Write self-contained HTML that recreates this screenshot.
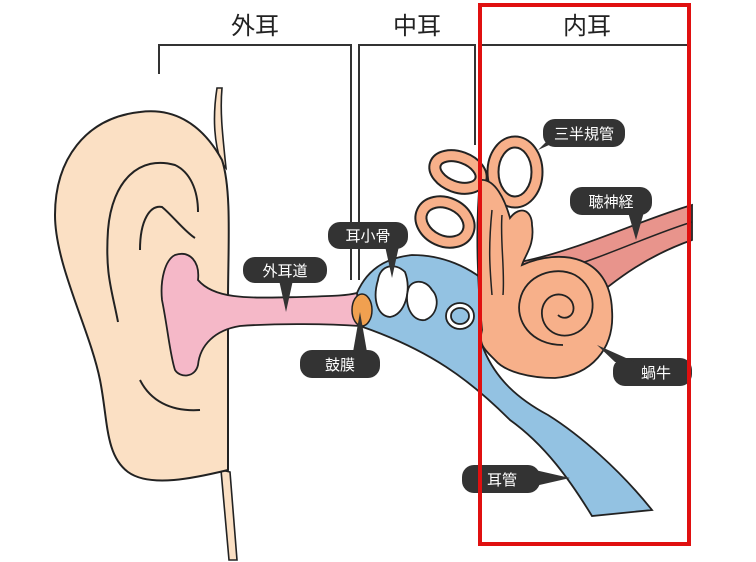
<!DOCTYPE html>
<html><head><meta charset="utf-8"><style>
html,body{margin:0;padding:0;background:#fff;width:756px;height:562px;overflow:hidden}
svg{display:block}
text{font-family:"Liberation Sans","Noto Sans CJK JP",sans-serif}
</style></head><body>
<svg width="756" height="562" viewBox="0 0 756 562" xmlns="http://www.w3.org/2000/svg">
<g fill="none" stroke="#333" stroke-width="2">
<path d="M159 74 V45 H351 V280"/>
<path d="M359 280 V45 H475 V145"/>
<path d="M480 45 H689"/>
</g>
<g font-size="24" fill="#222" text-anchor="middle">
<text x="255" y="34">外耳</text>
<text x="417" y="34">中耳</text>
<text x="587" y="34">内耳</text>
</g>
<!-- neck / hair lines -->
<path d="M217 88 C212 120 215 145 221 162 L226 168 C222 130 220 110 222 88 Z" fill="#fbe0c4" stroke="#222" stroke-width="1.6"/>
<path d="M221 470 L229 560 L237 560 L230 472 Z" fill="#fbe0c4" stroke="#222" stroke-width="1.6"/>
<!-- ear -->
<path d="M222 160 C200 120 170 108 140 112 C85 118 55 160 55 215 C55 265 90 330 100 380 C108 420 105 455 128 472 C150 488 195 478 228 470 L228 300 C228 250 232 190 222 160 Z" fill="#fbe0c4" stroke="#222" stroke-width="2"/>
<g fill="none" stroke="#222" stroke-width="2">
<path d="M118 322 C112 290 105 275 108 230 C112 180 140 155 175 165 C190 172 198 190 198 212"/>
<path d="M140 250 C140 220 150 205 162 207 C172 215 185 232 195 238"/>
<path d="M140 380 C150 400 170 412 200 410"/>
</g>
<!-- nerve -->
<path d="M520 262 C580 250 640 220 692 205 L692 240 C650 255 620 275 580 310 Z" fill="#e8948c" stroke="#222" stroke-width="1.8"/>
<path d="M560 270 C610 255 650 235 692 222" fill="none" stroke="#222" stroke-width="1.5"/>
<!-- blue middle ear + tube -->
<path d="M355 298 C365 270 385 258 412 255 C440 255 470 265 495 290 L482 345 C495 380 520 400 548 415 C580 435 620 470 652 510 L592 516 C570 480 545 445 510 420 C470 380 430 350 360 326 Z" fill="#93c2e2" stroke="#222" stroke-width="1.8"/>
<!-- pink canal -->
<path d="M175 255 C190 250 200 262 198 280 C215 300 250 298 300 297 C330 296 345 296 357 293 L360 326 C330 324 280 323 240 326 C215 330 200 345 198 365 C195 378 180 378 175 370 C170 355 168 330 162 300 C160 280 165 260 175 255 Z" fill="#f5b8c8" stroke="#222" stroke-width="1.8"/>
<!-- eardrum -->
<ellipse cx="362" cy="310" rx="10" ry="16" fill="#f0a050" stroke="#222" stroke-width="1.5"/>
<!-- ossicles -->
<g fill="#fff" stroke="#222" stroke-width="1.8">
<path d="M378 280 C380 265 395 262 405 272 C412 290 405 315 390 317 C378 316 372 300 378 280 Z"/>
<path d="M408 290 C410 280 425 278 432 290 C440 298 438 315 425 320 C412 322 404 305 408 290 Z"/>
<ellipse cx="460" cy="316" rx="14" ry="13"/>
<ellipse cx="460" cy="316" rx="9" ry="8" fill="#93c2e2"/>
</g>
<!-- semicircular canals as tubes -->
<g fill="none">
<ellipse cx="458" cy="172" rx="24" ry="15" transform="rotate(20 458 172)" stroke="#222" stroke-width="13"/>
<ellipse cx="458" cy="172" rx="24" ry="15" transform="rotate(20 458 172)" stroke="#f7b08a" stroke-width="9"/>
<ellipse cx="445" cy="222" rx="25" ry="19" transform="rotate(25 445 222)" stroke="#222" stroke-width="13"/>
<ellipse cx="445" cy="222" rx="25" ry="19" transform="rotate(25 445 222)" stroke="#f7b08a" stroke-width="9"/>
<ellipse cx="515" cy="172" rx="22" ry="30" stroke="#222" stroke-width="13"/>
<ellipse cx="515" cy="172" rx="22" ry="30" stroke="#f7b08a" stroke-width="9"/>
</g>
<g fill="#f7b08a" stroke="#222" stroke-width="1.8">
<path d="M480 180 C495 178 505 200 510 218 C520 205 532 210 532 225 C535 245 525 255 522 265 C560 248 610 255 612 310 C615 350 590 375 555 378 C530 378 505 372 495 360 C485 350 478 345 482 330 C478 290 475 230 480 180 Z"/>
</g>
<path d="M563 345 C530 345 515 320 520 300 C525 275 555 265 575 275 C598 288 598 320 578 332 C560 342 540 330 542 310 C545 292 565 290 572 302 C578 315 565 322 558 315" fill="none" stroke="#222" stroke-width="1.8"/>
<path d="M492 210 C488 250 490 270 492 295 M502 215 C500 240 505 270 503 295" fill="none" stroke="#222" stroke-width="1.5"/>
<!-- labels -->
<g fill="#333">
<rect x="543" y="119" width="82" height="28" rx="12"/><path d="M548 140 L538 150 L560 140Z"/>
<rect x="570" y="187" width="82" height="28" rx="12"/><path d="M628 212 L636 240 L644 212Z"/>
<rect x="328" y="222" width="80" height="27" rx="12"/><path d="M385 246 L392 278 L399 246Z"/>
<rect x="243" y="257" width="84" height="26" rx="12"/><path d="M279 280 L286 312 L293 280Z"/>
<rect x="300" y="350" width="80" height="28" rx="12"/><path d="M353 352 L360 312 L367 352Z"/>
<rect x="613" y="358" width="79" height="28" rx="12"/><path d="M615 362 L597 345 L635 362Z"/>
<rect x="462" y="465" width="78" height="28" rx="12"/><path d="M535 470 L570 478 L535 486Z"/>
</g>
<g fill="#fff" font-size="15" text-anchor="middle">
<text x="584" y="139">三半規管</text>
<text x="611" y="207">聴神経</text>
<text x="368" y="241">耳小骨</text>
<text x="285" y="276">外耳道</text>
<text x="340" y="370">鼓膜</text>
<text x="656" y="378">蝸牛</text>
<text x="502" y="485">耳管</text>
</g>
<rect x="480" y="5" width="209" height="539" fill="none" stroke="#e01010" stroke-width="4"/>
</svg>
</body></html>
